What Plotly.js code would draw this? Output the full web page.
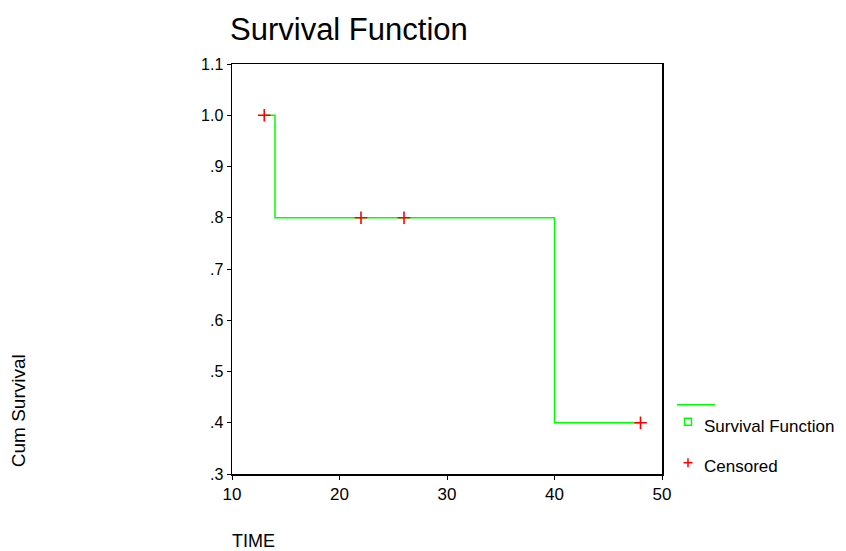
<!DOCTYPE html>
<html>
<head>
<meta charset="utf-8">
<script src="https://cdn.plot.ly/plotly-3.0.1.min.js"></script>
<style>html,body{margin:0;padding:0;background:#fff;}#chart{width:846px;height:551px;}</style>
</head>
<body>
<div id="chart"></div>
<script>
// Survival step function
const stepTime = [13, 14, 40, 48];
const stepSurvival = [1.0, 0.8, 0.4, 0.4];
// Censored observations
const censoredTime = [13, 22, 26, 48];
const censoredSurvival = [1.0, 0.8, 0.8, 0.4];
// Axis ticks
const xTickVals = [10, 20, 30, 40, 50];
const yTickVals = [0.3, 0.4, 0.5, 0.6, 0.7, 0.8, 0.9, 1.0, 1.1];
const yTickText = ['.3', '.4', '.5', '.6', '.7', '.8', '.9', '1.0', '1.1'];

const W = 846, H = 551;
const L = 231.7, R = 662, T = 64, B = 474.3;
const px = v => (v - L) / (R - L);
const py = v => (B - v) / (B - T);
const FONT = 'Liberation Sans, Arial, sans-serif';

const traces = [
  {
    x: stepTime, y: stepSurvival, type: 'scatter', mode: 'lines',
    line: {shape: 'hv', color: '#00ff00', width: 1.5},
    name: 'Survival Function', showlegend: false, hoverinfo: 'skip'
  },
  {
    x: censoredTime, y: censoredSurvival, type: 'scatter', mode: 'markers',
    marker: {symbol: 'cross-thin', size: 9, color: '#ff0000', line: {color: '#ff0000', width: 1.6}},
    name: 'Censored', showlegend: false, hoverinfo: 'skip'
  }
];

const layout = {
  width: W, height: H,
  margin: {l: L, r: W - R, t: T, b: H - B, pad: 0},
  paper_bgcolor: '#ffffff', plot_bgcolor: '#ffffff',
  showlegend: false,
  font: {family: FONT, color: '#000'},
  xaxis: {
    range: [10, 50], tickvals: xTickVals, ticktext: xTickVals.map(String),
    showgrid: false, zeroline: false, showline: true, mirror: true,
    linecolor: '#000', linewidth: 1.5, ticks: 'outside', ticklen: 4, tickwidth: 1, tickcolor: '#000',
    tickfont: {family: FONT, size: 17, color: '#000'}
  },
  yaxis: {
    range: [0.3, 1.1], tickvals: yTickVals, ticktext: yTickText,
    showgrid: false, zeroline: false, showline: true, mirror: true,
    linecolor: '#000', linewidth: 1.5, ticks: 'outside', ticklen: 4, tickwidth: 1, tickcolor: '#000',
    tickfont: {family: FONT, size: 16, color: '#000'}
  },
  shapes: [
    {type: 'line', xref: 'paper', yref: 'paper', x0: px(677), x1: px(715), y0: py(405), y1: py(405),
     line: {color: '#00ff00', width: 1.5}},
    {type: 'rect', xref: 'paper', yref: 'paper', x0: px(684.5), x1: px(691.5), y0: py(425.5), y1: py(418.5),
     line: {color: '#00ff00', width: 1.5}, fillcolor: 'rgba(0,0,0,0)'},
    {type: 'line', xref: 'paper', yref: 'paper', x0: px(683.5), x1: px(692.5), y0: py(463), y1: py(463),
     line: {color: '#ff0000', width: 1.5}},
    {type: 'line', xref: 'paper', yref: 'paper', x0: px(688), x1: px(688), y0: py(458.5), y1: py(467.5),
     line: {color: '#ff0000', width: 1.5}}
  ],
  annotations: [
    {text: 'Survival Function', xref: 'paper', yref: 'paper', x: px(228), y: py(29),
     xanchor: 'left', yanchor: 'middle', showarrow: false,
     font: {family: FONT, size: 31, color: '#000'}},
    {text: 'Survival Function', xref: 'paper', yref: 'paper', x: px(702), y: py(427),
     xanchor: 'left', yanchor: 'middle', showarrow: false,
     font: {family: FONT, size: 17, color: '#000'}},
    {text: 'Censored', xref: 'paper', yref: 'paper', x: px(702), y: py(467),
     xanchor: 'left', yanchor: 'middle', showarrow: false,
     font: {family: FONT, size: 17, color: '#000'}},
    {text: 'Cum Survival', xref: 'paper', yref: 'paper', x: px(18), y: py(411),
     xanchor: 'center', yanchor: 'middle', textangle: -90, showarrow: false,
     font: {family: FONT, size: 19, color: '#000'}},
    {text: 'TIME', xref: 'paper', yref: 'paper', x: px(230), y: py(541),
     xanchor: 'left', yanchor: 'middle', showarrow: false,
     font: {family: FONT, size: 18, color: '#000'}}
  ]
};

Plotly.newPlot('chart', traces, layout, {staticPlot: true, displayModeBar: false});
</script>
</body>
</html>
